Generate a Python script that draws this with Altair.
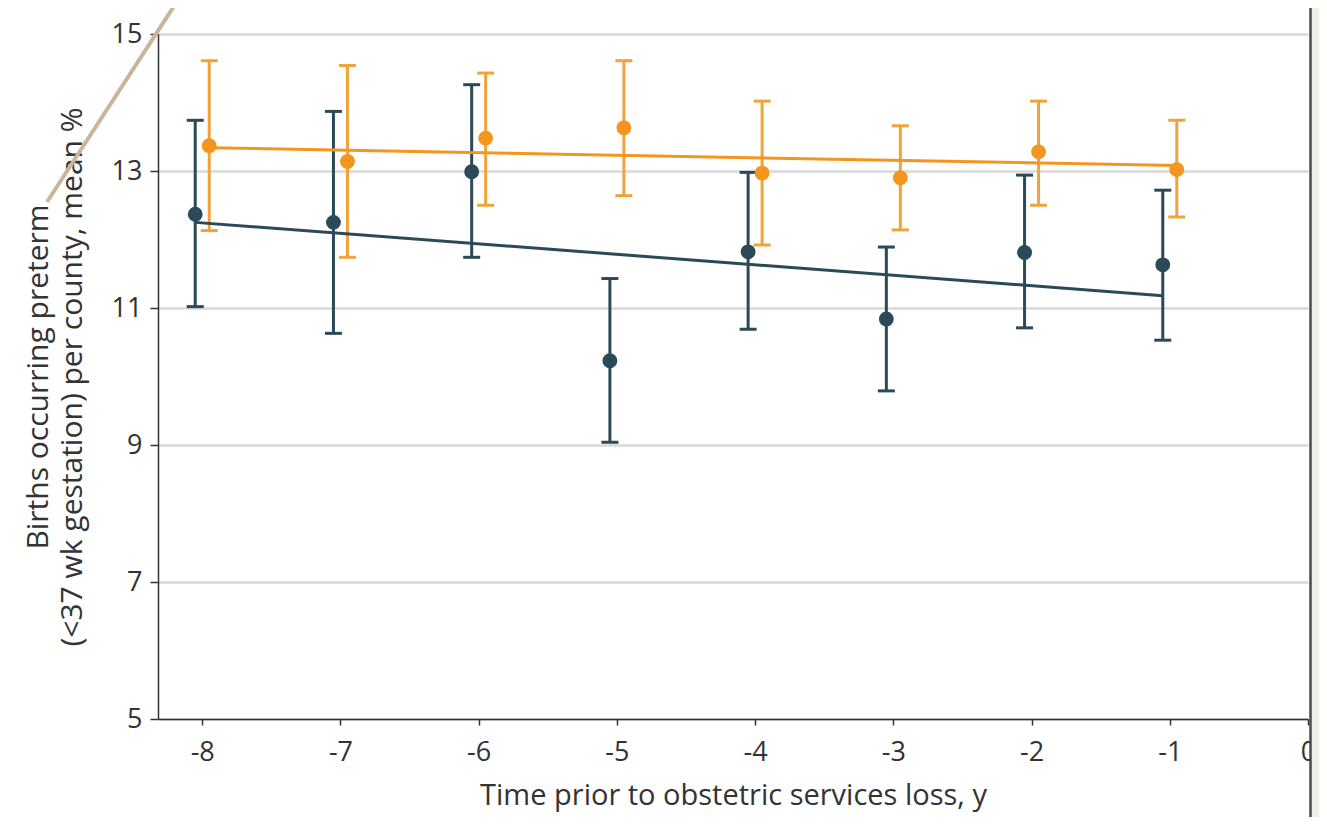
import altair as alt
import pandas as pd

# ---- data ----
times = [-8, -7, -6, -5, -4, -3, -2, -1]

dark_mean = [12.37, 12.25, 12.99, 10.23, 11.82, 10.84, 11.81, 11.63]
dark_lo = [11.02, 10.63, 11.74, 9.04, 10.69, 9.79, 10.71, 10.53]
dark_hi = [13.74, 13.87, 14.26, 11.43, 12.98, 11.89, 12.94, 12.72]

orange_mean = [13.37, 13.14, 13.48, 13.63, 12.97, 12.90, 13.28, 13.02]
orange_lo = [12.13, 11.74, 12.50, 12.64, 11.92, 12.14, 12.50, 12.33]
orange_hi = [14.61, 14.54, 14.43, 14.61, 14.02, 13.66, 14.02, 13.74]

trend_x = [-8, -1]
dark_trend = [12.25, 11.18]
orange_trend = [13.34, 13.08]

x_ticks = [-8, -7, -6, -5, -4, -3, -2, -1, 0]
y_ticks = [5, 7, 9, 11, 13, 15]

FONT = "Open Sans"
TEXT = "#333333"
DARK = "#2b4a58"
ORANGE = "#f3951f"
ORANGE_BAR = "#f1a33a"
TAN = "#c9b59c"
BEIGE = "#f2eee9"

x_scale = alt.Scale(domain=[-8.32, 0], nice=False, zero=False)
y_scale = alt.Scale(domain=[5, 15], nice=False, zero=False)

x_axis = alt.Axis(
    values=x_ticks, title="Time prior to obstetric services loss, y",
    grid=False, tickSize=6, tickWidth=1.5, tickColor=TEXT,
    domainColor=TEXT, domainWidth=1.5,
    labelFont=FONT, labelFontSize=27, labelColor=TEXT, labelPadding=14,
    labelExpr="'' + datum.value", labelOverlap=False, labelFlush=False, labelBound=False,
    titleFont=FONT, titleFontSize=29, titleFontWeight="normal", titleColor=TEXT,
    titlePadding=16,
)
y_axis = alt.Axis(
    values=y_ticks, title=["Births occurring preterm", "(<37 wk gestation) per county, mean %"],
    grid=True, gridColor="#d9d9d9", gridWidth=2.5,
    tickSize=8, tickWidth=1.5, tickColor=TEXT,
    domainColor=TEXT, domainWidth=1.5,
    labelFont=FONT, labelFontSize=27, labelColor=TEXT, labelPadding=8,
    labelOverlap=False, labelFlush=False, labelBound=False,
    titleFont=FONT, titleFontSize=30, titleFontWeight="normal", titleColor=TEXT,
    titlePadding=24, titleLineHeight=34,
)


def series_layers(mean, lo, hi, trend, color, bar_color, off):
    df = pd.DataFrame({"t": times, "mean": mean, "lo": lo, "hi": hi})
    tdf = pd.DataFrame({"t": trend_x, "v": trend})
    base = alt.Chart(df)
    x = alt.X("t:Q", scale=x_scale, axis=x_axis)
    bars = base.mark_rule(color=bar_color, strokeWidth=3, xOffset=off).encode(
        x=x, y=alt.Y("lo:Q", scale=y_scale, axis=y_axis), y2="hi:Q")
    cap_hi = base.mark_tick(color=bar_color, orient="horizontal", size=17, thickness=3,
                            opacity=1, xOffset=off).encode(x=x, y=alt.Y("hi:Q", scale=y_scale, axis=y_axis))
    cap_lo = base.mark_tick(color=bar_color, orient="horizontal", size=17, thickness=3,
                            opacity=1, xOffset=off).encode(x=x, y=alt.Y("lo:Q", scale=y_scale, axis=y_axis))
    line = alt.Chart(tdf).mark_line(color=color, strokeWidth=3, xOffset=off).encode(
        x=x, y=alt.Y("v:Q", scale=y_scale, axis=y_axis))
    pts = base.mark_circle(color=color, size=220, opacity=1, xOffset=off).encode(
        x=x, y=alt.Y("mean:Q", scale=y_scale, axis=y_axis))
    return [bars, cap_hi, cap_lo], [line], [pts]


ob, ol, op = series_layers(orange_mean, orange_lo, orange_hi, orange_trend, ORANGE, ORANGE_BAR, 7)
db, dl, dp = series_layers(dark_mean, dark_lo, dark_hi, dark_trend, DARK, DARK, -7)

deco = pd.DataFrame({"d": [0]})
beige_strip = alt.Chart(deco).mark_rect(color=BEIGE).encode(
    x=alt.value(1153), x2=alt.value(1170), y=alt.value(-40), y2=alt.value(800))
frame_line = alt.Chart(deco).mark_rule(color="#4a4a4a", strokeWidth=2.5).encode(
    x=alt.value(1152.5), y=alt.value(-40), y2=alt.value(800))
leader = alt.Chart(deco).mark_rule(color=TAN, strokeWidth=4).encode(
    x=alt.value(20), y=alt.value(-34), x2=alt.value(-111), y2=alt.value(168))

chart = alt.layer(
    *ob, *db, *ol, *dl, *op, *dp, beige_strip, frame_line, leader
).properties(
    width=1150, height=685,
    padding={"left": 150, "top": 26, "right": 11, "bottom": 98},
    autosize=alt.AutoSizeParams(type="none"),
    background="white",
).configure_view(stroke=None)

chart.save("out.html", embed_options={"renderer": "svg", "actions": False})
